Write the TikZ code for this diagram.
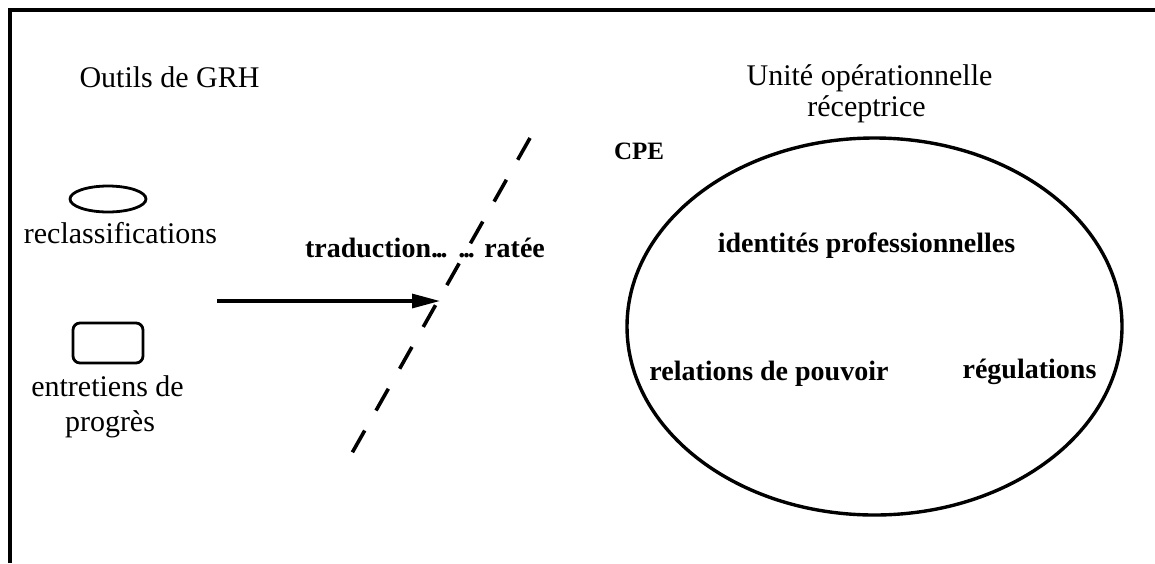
\documentclass[tikz,border=0pt]{standalone}
\usepackage{fontspec}
\setmainfont{Liberation Serif}
\usetikzlibrary{arrows.meta,shapes.geometric}
\newcommand{\tightdots}{.\kern-0.08em.\kern-0.08em.}
\tikzset{
  lbl/.style={inner sep=0pt, anchor=base, font=\fontsize{15}{17}\selectfont},
  blbl/.style={inner sep=0pt, anchor=base, font=\fontsize{14}{17}\selectfont\bfseries},
  frameline/.style={line width=1.8pt},
  shapeline/.style={draw, line width=1.4pt},
  dashline/.style={line width=1.8pt, dash pattern=on 12.5pt off 11.5pt},
  arrowline/.style={line width=1.6pt, -{Triangle[length=14pt,width=7pt]}}
}
\begin{document}
\begin{tikzpicture}[x=0.5pt,y=-0.5pt]
\useasboundingbox (0,0) rectangle (1155,563);
% frame
\coordinate (fbl) at (10,563);
\coordinate (ftl) at (10,10);
\coordinate (ftr) at (1155,10);
\draw[frameline] (fbl) -- (ftl) -- (ftr);
% left side
\node[lbl] (outils) at (169.5,87) {Outils de GRH};
\node[shapeline, ellipse, minimum width=38pt, minimum height=13pt, inner sep=0pt] (sell) at (108,199) {};
\node[lbl] (reclass) at (120.5,243) {reclassifications};
\node[shapeline, rectangle, rounded corners=3.5pt, minimum width=35pt, minimum height=20pt, inner sep=0pt] (srect) at (108,343) {};
\node[lbl] (entre) at (107.5,396) {entretiens de};
\node[lbl] (progres) at (110,431) {progrès};
% arrow and dashed line
\coordinate (astart) at (217,301);
\coordinate (aend) at (440,301);
\draw[arrowline] (astart) -- (aend);
\coordinate (dtop) at (530,138);
\coordinate (dbot) at (352,453);
\draw[dashline] (dtop) -- (dbot);
\node[blbl, anchor=base east] (trad) at (448,257) {traduction\tightdots};
\node[blbl, anchor=base west] (ratee) at (458,257) {\tightdots{} ratée};
% right side
\node[lbl] (unite) at (869.5,85) {Unité opérationnelle};
\node[lbl] (recep) at (866.5,116) {réceptrice};
\node[blbl, font=\fontsize{12.5}{14}\selectfont\bfseries] (cpe) at (639,159) {CPE};
\node[draw, ellipse, line width=1.7pt, minimum width=247.5pt, minimum height=188.5pt, inner sep=0pt] (bigell) at (874.5,326.5) {};
\node[blbl] (ident) at (866.5,252) {identités professionnelles};
\node[blbl] (relat) at (769,380) {relations de pouvoir};
\node[blbl] (regul) at (1029.5,378) {régulations};
\end{tikzpicture}
\end{document}
